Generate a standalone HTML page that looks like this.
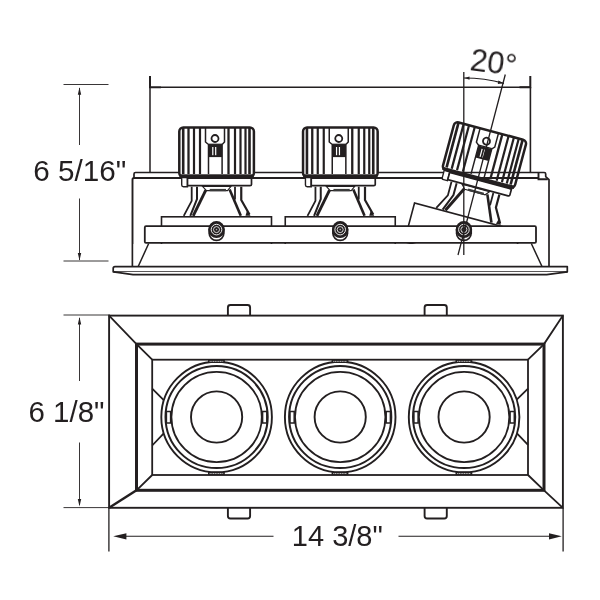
<!DOCTYPE html>
<html lang="en">
<head>
<meta charset="utf-8">
<title>Dimensions</title>
<style>
html,body{margin:0;padding:0;background:#fff;}
body{width:600px;height:600px;overflow:hidden;}
svg{display:block;font-family:"Liberation Sans",sans-serif;}
</style>
</head>
<body>
<svg width="600" height="600" viewBox="0 0 600 600">
<defs><filter id="nf" x="-10%" y="-30%" width="120%" height="160%" color-interpolation-filters="sRGB"><feOffset dx="0" dy="0"/></filter></defs>
<rect width="600" height="600" fill="#fff"/>
<path d="M150,76 L150,87.2 L161,87.2" fill="none" stroke="#231f20" stroke-width="2"/>
<path d="M150,87 L150,172 M161,87.2 L530,87.2" fill="none" stroke="#231f20" stroke-width="1.5"/>
<path d="M530.3,76 L530.3,87.3 L519.5,87.3" fill="none" stroke="#231f20" stroke-width="2"/>
<path d="M530.4,87 L530.4,172" fill="none" stroke="#231f20" stroke-width="1.6"/>
<path d="M134,178 L134,174 Q134,172.5 135.5,172.5 L544.2,172.5 Q545.7,172.5 545.7,174 L545.7,176.6 L549,179.6 L549,266.5" fill="none" stroke="#231f20" stroke-width="1.7" stroke-linejoin="round"/>
<path d="M132.5,266.5 L132.5,179.6 Q132.5,178 134,178 L538.5,178" fill="none" stroke="#231f20" stroke-width="1.9"/>
<path d="M538.5,172.5 L538.5,179.2 L547.8,179.2" fill="none" stroke="#231f20" stroke-width="1.9"/>
<g transform="translate(216.5,231)"><rect x="-55" y="-14.2" width="110" height="40" fill="#fff" stroke="#231f20" stroke-width="1.6"/>
<path d="M-24.8,-44.3 L-24.8,-30.2 L-32.75,-15.2" fill="none" stroke="#231f20" stroke-width="1.8"/>
<path d="M-19.5,-44.3 L-19.5,-32 L-26.2,-15.2" fill="none" stroke="#231f20" stroke-width="2"/>
<path d="M-10.7,-40.8 L-23.3,-15.2" fill="none" stroke="#231f20" stroke-width="2.9"/>
<path d="M13.1,-41.4 L24.3,-15.2" fill="none" stroke="#231f20" stroke-width="2.6"/>
<path d="M18.5,-44.3 L18.5,-31.5" fill="none" stroke="#231f20" stroke-width="1.8"/>
<path d="M24.75,-44.3 L24.75,-31 L33,-16.5" fill="none" stroke="#231f20" stroke-width="2.2"/>
<path d="M30.5,-20.5 L34,-15.2 L29,-15.2 Z" fill="#231f20"/>
<path d="M-14,-44.6 L-10,-40.4 L11,-40.4 L14.5,-44.6 Z" fill="#fff" stroke="#231f20" stroke-width="1.1"/>
<rect x="-6.8" y="-42.1" width="16.3" height="2.3" fill="#3a3a3a"/>
<path d="M-34.8,-54 L-34.8,-46 Q-34.8,-44.3 -33,-44.3 L-29,-44.3 L-29,-54 Z" fill="#fff" stroke="#231f20" stroke-width="1.4"/>
<path d="M-29,-52.8 L35,-52.8 L35,-46.5 Q35,-45.4 33.5,-45.4 L-29,-45.4 Z" fill="#fff" stroke="#231f20" stroke-width="1.7"/>
<rect x="-37.2" y="-103.5" width="74.6" height="49.6" rx="4" ry="4" fill="#fff" stroke="#231f20" stroke-width="2.5"/>
<line x1="-33.3" y1="-103" x2="-33.3" y2="-57" stroke="#231f20" stroke-width="2.6"/>
<line x1="-28" y1="-103" x2="-28" y2="-57" stroke="#231f20" stroke-width="2.3"/>
<line x1="-22.5" y1="-103" x2="-22.5" y2="-57" stroke="#231f20" stroke-width="2.2"/>
<line x1="-16.5" y1="-103" x2="-16.5" y2="-57" stroke="#231f20" stroke-width="2.2"/>
<line x1="12" y1="-103" x2="12" y2="-57" stroke="#231f20" stroke-width="2.3"/>
<line x1="18.5" y1="-103" x2="18.5" y2="-57" stroke="#231f20" stroke-width="2.2"/>
<line x1="24" y1="-103" x2="24" y2="-57" stroke="#231f20" stroke-width="2.2"/>
<line x1="29" y1="-103" x2="29" y2="-57" stroke="#231f20" stroke-width="2.2"/>
<line x1="33.0" y1="-103" x2="33.0" y2="-57" stroke="#231f20" stroke-width="2.6"/>
<rect x="-37" y="-56.7" width="74.2" height="3.2" fill="#231f20"/>
<path d="M-11,-103 L-11,-89 L-8,-86.5 L-8,-57 M8,-103 L8,-89 L5.6,-86.5 L5.6,-57" fill="none" stroke="#231f20" stroke-width="1.5"/>
<line x1="-8" y1="-86.7" x2="5.6" y2="-86.7" stroke="#231f20" stroke-width="1.3"/>
<rect x="-8" y="-86.5" width="13.6" height="12.6" fill="#231f20"/>
<rect x="-4.3" y="-84" width="1.2" height="8.2" fill="#fff"/>
<rect x="-1.4" y="-84" width="1.2" height="8.2" fill="#fff"/>
<circle cx="-1.5" cy="-92.5" r="3.5" fill="#fff" stroke="#231f20" stroke-width="1.8"/></g>
<g transform="translate(340.25,231)"><rect x="-55" y="-14.2" width="110" height="40" fill="#fff" stroke="#231f20" stroke-width="1.6"/>
<path d="M-24.8,-44.3 L-24.8,-30.2 L-32.75,-15.2" fill="none" stroke="#231f20" stroke-width="1.8"/>
<path d="M-19.5,-44.3 L-19.5,-32 L-26.2,-15.2" fill="none" stroke="#231f20" stroke-width="2"/>
<path d="M-10.7,-40.8 L-23.3,-15.2" fill="none" stroke="#231f20" stroke-width="2.9"/>
<path d="M13.1,-41.4 L24.3,-15.2" fill="none" stroke="#231f20" stroke-width="2.6"/>
<path d="M18.5,-44.3 L18.5,-31.5" fill="none" stroke="#231f20" stroke-width="1.8"/>
<path d="M24.75,-44.3 L24.75,-31 L33,-16.5" fill="none" stroke="#231f20" stroke-width="2.2"/>
<path d="M30.5,-20.5 L34,-15.2 L29,-15.2 Z" fill="#231f20"/>
<path d="M-14,-44.6 L-10,-40.4 L11,-40.4 L14.5,-44.6 Z" fill="#fff" stroke="#231f20" stroke-width="1.1"/>
<rect x="-6.8" y="-42.1" width="16.3" height="2.3" fill="#3a3a3a"/>
<path d="M-34.8,-54 L-34.8,-46 Q-34.8,-44.3 -33,-44.3 L-29,-44.3 L-29,-54 Z" fill="#fff" stroke="#231f20" stroke-width="1.4"/>
<path d="M-29,-52.8 L35,-52.8 L35,-46.5 Q35,-45.4 33.5,-45.4 L-29,-45.4 Z" fill="#fff" stroke="#231f20" stroke-width="1.7"/>
<rect x="-37.2" y="-103.5" width="74.6" height="49.6" rx="4" ry="4" fill="#fff" stroke="#231f20" stroke-width="2.5"/>
<line x1="-33.3" y1="-103" x2="-33.3" y2="-57" stroke="#231f20" stroke-width="2.6"/>
<line x1="-28" y1="-103" x2="-28" y2="-57" stroke="#231f20" stroke-width="2.3"/>
<line x1="-22.5" y1="-103" x2="-22.5" y2="-57" stroke="#231f20" stroke-width="2.2"/>
<line x1="-16.5" y1="-103" x2="-16.5" y2="-57" stroke="#231f20" stroke-width="2.2"/>
<line x1="12" y1="-103" x2="12" y2="-57" stroke="#231f20" stroke-width="2.3"/>
<line x1="18.5" y1="-103" x2="18.5" y2="-57" stroke="#231f20" stroke-width="2.2"/>
<line x1="24" y1="-103" x2="24" y2="-57" stroke="#231f20" stroke-width="2.2"/>
<line x1="29" y1="-103" x2="29" y2="-57" stroke="#231f20" stroke-width="2.2"/>
<line x1="33.0" y1="-103" x2="33.0" y2="-57" stroke="#231f20" stroke-width="2.6"/>
<rect x="-37" y="-56.7" width="74.2" height="3.2" fill="#231f20"/>
<path d="M-11,-103 L-11,-89 L-8,-86.5 L-8,-57 M8,-103 L8,-89 L5.6,-86.5 L5.6,-57" fill="none" stroke="#231f20" stroke-width="1.5"/>
<line x1="-8" y1="-86.7" x2="5.6" y2="-86.7" stroke="#231f20" stroke-width="1.3"/>
<rect x="-8" y="-86.5" width="13.6" height="12.6" fill="#231f20"/>
<rect x="-4.3" y="-84" width="1.2" height="8.2" fill="#fff"/>
<rect x="-1.4" y="-84" width="1.2" height="8.2" fill="#fff"/>
<circle cx="-1.5" cy="-92.5" r="3.5" fill="#fff" stroke="#231f20" stroke-width="1.8"/></g>
<g transform="translate(464,231) rotate(15)"><rect x="-55" y="-14.2" width="110" height="40" fill="#fff" stroke="#231f20" stroke-width="1.6"/>
<path d="M-24.8,-44.3 L-24.8,-30.2 L-32.75,-15.2" fill="none" stroke="#231f20" stroke-width="1.8"/>
<path d="M-19.5,-44.3 L-19.5,-32 L-26.2,-15.2" fill="none" stroke="#231f20" stroke-width="2"/>
<path d="M-10.7,-40.8 L-23.3,-15.2" fill="none" stroke="#231f20" stroke-width="2.9"/>
<path d="M13.1,-41.4 L24.3,-15.2" fill="none" stroke="#231f20" stroke-width="2.6"/>
<path d="M18.5,-44.3 L18.5,-31.5" fill="none" stroke="#231f20" stroke-width="1.8"/>
<path d="M24.75,-44.3 L24.75,-31 L33,-16.5" fill="none" stroke="#231f20" stroke-width="2.2"/>
<path d="M30.5,-20.5 L34,-15.2 L29,-15.2 Z" fill="#231f20"/>
<path d="M-14,-44.6 L-10,-40.4 L11,-40.4 L14.5,-44.6 Z" fill="#fff" stroke="#231f20" stroke-width="1.1"/>
<rect x="-6.8" y="-42.1" width="16.3" height="2.3" fill="#3a3a3a"/>
<path d="M-34.8,-54 L-34.8,-46 Q-34.8,-44.3 -33,-44.3 L-29,-44.3 L-29,-54 Z" fill="#fff" stroke="#231f20" stroke-width="1.4"/>
<path d="M-29,-52.8 L35,-52.8 L35,-46.5 Q35,-45.4 33.5,-45.4 L-29,-45.4 Z" fill="#fff" stroke="#231f20" stroke-width="1.7"/>
<rect x="-37.2" y="-103.5" width="74.6" height="49.6" rx="4" ry="4" fill="none" stroke="#231f20" stroke-width="2.5"/>
<line x1="-33.3" y1="-103" x2="-33.3" y2="-57" stroke="#231f20" stroke-width="2.6"/>
<line x1="-28" y1="-103" x2="-28" y2="-57" stroke="#231f20" stroke-width="2.3"/>
<line x1="-22.5" y1="-103" x2="-22.5" y2="-57" stroke="#231f20" stroke-width="2.2"/>
<line x1="-16.5" y1="-103" x2="-16.5" y2="-57" stroke="#231f20" stroke-width="2.2"/>
<line x1="12" y1="-103" x2="12" y2="-57" stroke="#231f20" stroke-width="2.3"/>
<line x1="18.5" y1="-103" x2="18.5" y2="-57" stroke="#231f20" stroke-width="2.2"/>
<line x1="24" y1="-103" x2="24" y2="-57" stroke="#231f20" stroke-width="2.2"/>
<line x1="29" y1="-103" x2="29" y2="-57" stroke="#231f20" stroke-width="2.2"/>
<line x1="33.0" y1="-103" x2="33.0" y2="-57" stroke="#231f20" stroke-width="2.6"/>
<rect x="-37" y="-56.7" width="74.2" height="3.2" fill="#231f20"/>
<path d="M-11,-103 L-11,-89 L-8,-86.5 L-8,-57 M8,-103 L8,-89 L5.6,-86.5 L5.6,-57" fill="none" stroke="#231f20" stroke-width="1.5"/>
<line x1="-8" y1="-86.7" x2="5.6" y2="-86.7" stroke="#231f20" stroke-width="1.3"/>
<rect x="-8" y="-86.5" width="13.6" height="12.6" fill="#231f20"/>
<rect x="-4.3" y="-84" width="1.2" height="8.2" fill="#fff"/>
<rect x="-1.4" y="-84" width="1.2" height="8.2" fill="#fff"/>
<circle cx="-1.5" cy="-92.5" r="3.5" fill="#fff" stroke="#231f20" stroke-width="1.8"/></g>
<rect x="144.8" y="226.2" width="391.2" height="16.7" rx="1.2" fill="#fff" stroke="#231f20" stroke-width="1.8"/>
<rect x="133.5" y="244" width="414" height="22" fill="#fff"/>
<path d="M148.7,243.5 L138.2,266.5 M531.3,243.5 L542,266.5" fill="none" stroke="#231f20" stroke-width="1.5"/>
<rect x="208.35" y="221.1" width="16.3" height="20.2" rx="8.15" ry="8.15" fill="#231f20"/><circle cx="216.5" cy="233.2" r="6.4" fill="#fff"/><circle cx="216.5" cy="229.9" r="8.15" fill="#231f20"/><circle cx="216.5" cy="229.6" r="5.3" fill="none" stroke="#fff" stroke-width="0.9"/><circle cx="216.5" cy="229.6" r="3" fill="none" stroke="#fff" stroke-width="0.8"/><circle cx="216.5" cy="229.6" r="0.8" fill="#aaa"/>
<rect x="332.05" y="221.1" width="16.3" height="20.2" rx="8.15" ry="8.15" fill="#231f20"/><circle cx="340.2" cy="233.2" r="6.4" fill="#fff"/><circle cx="340.2" cy="229.9" r="8.15" fill="#231f20"/><circle cx="340.2" cy="229.6" r="5.3" fill="none" stroke="#fff" stroke-width="0.9"/><circle cx="340.2" cy="229.6" r="3" fill="none" stroke="#fff" stroke-width="0.8"/><circle cx="340.2" cy="229.6" r="0.8" fill="#aaa"/>
<rect x="455.75" y="221.1" width="16.3" height="20.2" rx="8.15" ry="8.15" fill="#231f20"/><circle cx="463.9" cy="233.2" r="6.4" fill="#fff"/><circle cx="463.9" cy="229.9" r="8.15" fill="#231f20"/><circle cx="463.9" cy="229.6" r="5.3" fill="none" stroke="#fff" stroke-width="0.9"/><circle cx="463.9" cy="229.6" r="3" fill="none" stroke="#fff" stroke-width="0.8"/><circle cx="463.9" cy="229.6" r="0.8" fill="#aaa"/>
<path d="M567.3,266.6 L115,266.6 Q113.2,266.6 113.2,268.4 L113.2,271.8 L567.3,271.8 Z" fill="#fff" stroke="#231f20" stroke-width="1.7" stroke-linejoin="round"/>
<path d="M113.6,271.8 L133,274.6 L546.7,274.6 L567.3,271.8" fill="#fff" stroke="#231f20" stroke-width="1.7" stroke-linejoin="round"/>
<path d="M463.8,72 L463.8,255 M505.3,74.5 L458,255" fill="none" stroke="#231f20" stroke-width="1.3"/>
<path d="M464,78 A153,153 0 0 1 504,83.3" fill="none" stroke="#231f20" stroke-width="1.2"/><path d="M464.5,78 L469.5,76.4 L469.5,79.8 Z M503.6,83.2 L498.4,80.5 L497.8,84 Z" fill="#231f20"/>
<rect x="227.9" y="305" width="22.2" height="14" rx="2.5" fill="#fff" stroke="#231f20" stroke-width="1.9"/>
<rect x="227.9" y="504.5" width="22.2" height="14" rx="2.5" fill="#fff" stroke="#231f20" stroke-width="1.9"/>
<rect x="424.6" y="305" width="22.2" height="14" rx="2.5" fill="#fff" stroke="#231f20" stroke-width="1.9"/>
<rect x="424.6" y="504.5" width="22.2" height="14" rx="2.5" fill="#fff" stroke="#231f20" stroke-width="1.9"/>
<rect x="109.1" y="315.6" width="453.79999999999995" height="192.2" fill="#fff" stroke="#231f20" stroke-width="1.9"/>
<rect x="136.5" y="344.1" width="407.5" height="146.2" fill="#fff" stroke="#231f20" stroke-width="3"/>
<rect x="152.2" y="359.7" width="375.8" height="115.30000000000001" fill="#fff" stroke="#231f20" stroke-width="1.8"/>
<path d="M109.1,315.6 L136.5,344.1 L152.2,359.7 M562.9,315.6 L544.0,344.1 L528.0,359.7 M562.9,507.8 L544.0,490.3 L528.0,475.0 M136.5,490.3 L152.2,475.0" fill="none" stroke="#231f20" stroke-width="1.8"/>
<path d="M109.1,507.8 L136.5,490.3" fill="none" stroke="#231f20" stroke-width="2.5"/>
<path d="M152.2,388.6 L164,400.3 M152.2,445.5 L164,433.2 M528.0,388.7 L516.7,399.6 M528.0,444.8 L516.7,433.2" fill="none" stroke="#231f20" stroke-width="1.8"/>
<circle cx="216.6" cy="417" r="55.3" fill="#fff" stroke="#231f20" stroke-width="1.9"/>
<circle cx="216.6" cy="417" r="51.1" fill="none" stroke="#231f20" stroke-width="2"/>
<circle cx="216.6" cy="417" r="45.2" fill="none" stroke="#231f20" stroke-width="1.8"/>
<circle cx="216.6" cy="417" r="25.6" fill="none" stroke="#231f20" stroke-width="1.9"/>
<rect x="166.39999999999998" y="411.5" width="4.2" height="11.5" fill="#fff" stroke="#231f20" stroke-width="1.5"/>
<rect x="262.6" y="411.5" width="4.2" height="11.5" fill="#fff" stroke="#231f20" stroke-width="1.5"/>
<rect x="208.0" y="359.7" width="16.8" height="3.3" fill="#231f20" />
<line x1="209.6" y1="361.4" x2="223.4" y2="361.4" stroke="#fff" stroke-width="0.7" stroke-dasharray="1.2 0.5"/>
<rect x="208.0" y="471.8" width="16.8" height="3.3" fill="#231f20" />
<line x1="209.6" y1="473.5" x2="223.4" y2="473.5" stroke="#fff" stroke-width="0.7" stroke-dasharray="1.2 0.5"/>
<circle cx="340.2" cy="417" r="55.3" fill="#fff" stroke="#231f20" stroke-width="1.9"/>
<circle cx="340.2" cy="417" r="51.1" fill="none" stroke="#231f20" stroke-width="2"/>
<circle cx="340.2" cy="417" r="45.2" fill="none" stroke="#231f20" stroke-width="1.8"/>
<circle cx="340.2" cy="417" r="25.6" fill="none" stroke="#231f20" stroke-width="1.9"/>
<rect x="290.0" y="411.5" width="4.2" height="11.5" fill="#fff" stroke="#231f20" stroke-width="1.5"/>
<rect x="386.2" y="411.5" width="4.2" height="11.5" fill="#fff" stroke="#231f20" stroke-width="1.5"/>
<rect x="331.59999999999997" y="359.7" width="16.8" height="3.3" fill="#231f20" />
<line x1="333.2" y1="361.4" x2="347.0" y2="361.4" stroke="#fff" stroke-width="0.7" stroke-dasharray="1.2 0.5"/>
<rect x="331.59999999999997" y="471.8" width="16.8" height="3.3" fill="#231f20" />
<line x1="333.2" y1="473.5" x2="347.0" y2="473.5" stroke="#fff" stroke-width="0.7" stroke-dasharray="1.2 0.5"/>
<circle cx="464.1" cy="417" r="55.3" fill="#fff" stroke="#231f20" stroke-width="1.9"/>
<circle cx="464.1" cy="417" r="51.1" fill="none" stroke="#231f20" stroke-width="2"/>
<circle cx="464.1" cy="417" r="45.2" fill="none" stroke="#231f20" stroke-width="1.8"/>
<circle cx="464.1" cy="417" r="25.6" fill="none" stroke="#231f20" stroke-width="1.9"/>
<rect x="413.90000000000003" y="411.5" width="4.2" height="11.5" fill="#fff" stroke="#231f20" stroke-width="1.5"/>
<rect x="510.1" y="411.5" width="4.2" height="11.5" fill="#fff" stroke="#231f20" stroke-width="1.5"/>
<rect x="455.5" y="359.7" width="16.8" height="3.3" fill="#231f20" />
<line x1="457.1" y1="361.4" x2="470.90000000000003" y2="361.4" stroke="#fff" stroke-width="0.7" stroke-dasharray="1.2 0.5"/>
<rect x="455.5" y="471.8" width="16.8" height="3.3" fill="#231f20" />
<line x1="457.1" y1="473.5" x2="470.90000000000003" y2="473.5" stroke="#fff" stroke-width="0.7" stroke-dasharray="1.2 0.5"/>
<path d="M63.5,84.5 L108.5,84.5 M63.5,261 L108.5,261 M63.5,315 L110,315 M63.5,507.6 L110,507.6" fill="none" stroke="#231f20" stroke-width="0.9"/>
<path d="M79.5,88 L79.5,145 M79.5,198.5 L79.5,260 M79.5,318 L79.5,381 M79.5,442.5 L79.5,505" fill="none" stroke="#231f20" stroke-width="0.9"/>
<path d="M79.5,87.3 L77.8,94.8 L81.2,94.8 Z" fill="#231f20"/>
<path d="M79.5,260.5 L77.8,253.0 L81.2,253.0 Z" fill="#231f20"/>
<path d="M79.5,317 L77.8,324.5 L81.2,324.5 Z" fill="#231f20"/>
<path d="M79.5,506.5 L77.8,499.0 L81.2,499.0 Z" fill="#231f20"/>
<path d="M108.9,508 L108.9,551.5 M563.1,508 L563.1,551.5" fill="none" stroke="#231f20" stroke-width="1.3"/>
<path d="M120,536.3 L273.5,536.3 M398.5,536.3 L555,536.3" fill="none" stroke="#231f20" stroke-width="1.1"/>
<path d="M113.2,536.3 L126.4,533.2 L126.4,539.4 Z M561.8,536.3 L549,533.2 L549,539.4 Z" fill="#231f20"/>
<text x="33.2" y="180.6" font-size="29" fill="#231f20" filter="url(#nf)" textLength="93" lengthAdjust="spacingAndGlyphs">6 5/16"</text>
<text x="28.5" y="421.8" font-size="29" fill="#231f20" filter="url(#nf)" textLength="76" lengthAdjust="spacingAndGlyphs">6 1/8"</text>
<text x="291.8" y="546.1" font-size="29" fill="#231f20" filter="url(#nf)" textLength="91" lengthAdjust="spacingAndGlyphs">14 3/8"</text>
<text x="469.2" y="69.5" font-size="31" fill="#231f20" filter="url(#nf)" textLength="46.5" lengthAdjust="spacingAndGlyphs" transform="rotate(7.5 469.2 69.5)">20°</text>
</svg>
</body>
</html>
